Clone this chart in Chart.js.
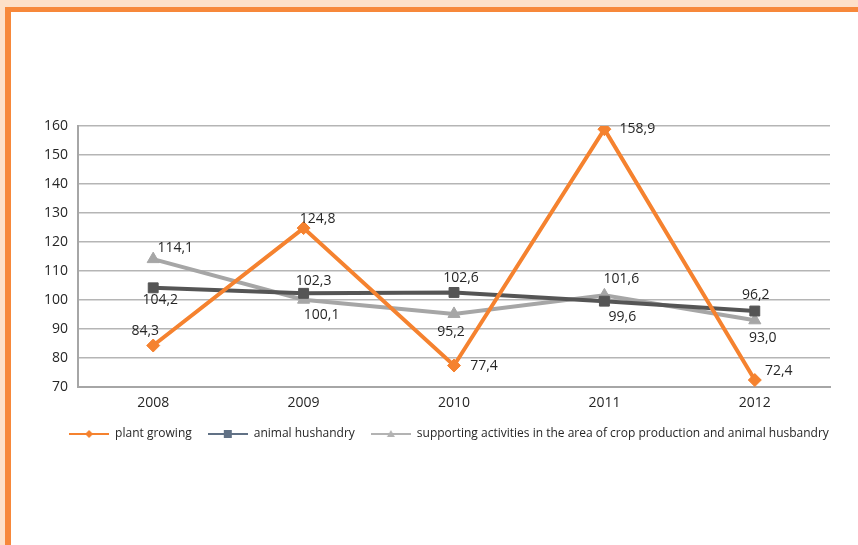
<!DOCTYPE html>
<html>
<head>
    <title>Plant growing / animal husbandry index</title>
    <script src="https://cdn.jsdelivr.net/npm/chart.js"></script>
    <style>
        body {
            margin: 0;
            background: #fde0c8;
            overflow: hidden;
        }
        .frame {
            position: absolute;
            left: 5px;
            top: 7px;
            width: 900px;
            height: 600px;
            background: #fff;
            border-top: 5px solid #f7883a;
            border-left: 6px solid #f7883a;
        }
        #chart {
            position: absolute;
            left: 0;
            top: 0;
        }
    </style>
</head>
<body>
    <div class="frame"></div>
    <canvas id="chart" width="858" height="545"></canvas>

    <script>
        // Data
        const years = ['2008', '2009', '2010', '2011', '2012'];
        const plantGrowing = [84.3, 124.8, 77.4, 158.9, 72.4];
        const animalHusbandry = [104.2, 102.3, 102.6, 99.6, 96.2];
        const supportingActivities = [114.1, 100.1, 95.2, 101.6, 93.0];
        const seriesNames = [
            'plant growing',
            'animal hushandry',
            'supporting activities in the area of crop production and animal husbandry'
        ];
        const yMin = 70, yMax = 160, yStep = 10;

        const orange = '#f5822f';
        const darkGray = '#555555';
        const lightGray = '#a6a6a6';
        const font = "'Open Sans', sans-serif";

        // where each value label sits relative to its point (dx, dy in px)
        const labelOffsets = [
            [[-8, -15], [14, -9], [30, 0], [33, 0], [24, -9]],
            [[7, 12], [10, -12], [7, -14], [18, 16], [1, -16]],
            [[22, -11], [18, 15], [-3, 18], [17, -16], [8, 18]]
        ];

        // legend icons: short line with the marker in the middle
        function legendIcon(color, shape) {
            const c = document.createElement('canvas');
            c.width = 40; c.height = 12;
            const g = c.getContext('2d');
            g.strokeStyle = color;
            g.lineWidth = 2;
            g.beginPath(); g.moveTo(0, 6); g.lineTo(40, 6); g.stroke();
            g.fillStyle = color;
            g.beginPath();
            if (shape === 'diamond') {
                g.moveTo(20, 2); g.lineTo(24, 6); g.lineTo(20, 10); g.lineTo(16, 6);
            } else if (shape === 'square') {
                g.rect(16, 2, 8, 8);
            } else {
                g.moveTo(20, 2); g.lineTo(24, 9); g.lineTo(16, 9);
            }
            g.closePath(); g.fill();
            return c;
        }
        const legendIcons = [
            legendIcon(orange, 'diamond'),
            legendIcon('#617185', 'square'),
            legendIcon('#b3b3b3', 'triangle')
        ];

        const valueLabels = {
            id: 'valueLabels',
            afterDatasetsDraw(chart) {
                const ctx = chart.ctx;
                ctx.save();
                ctx.font = '14px ' + font;
                ctx.fillStyle = '#262626';
                ctx.textAlign = 'center';
                ctx.textBaseline = 'middle';
                chart.data.datasets.forEach((ds, i) => {
                    chart.getDatasetMeta(i).data.forEach((pt, j) => {
                        const off = labelOffsets[i][j];
                        const txt = ds.data[j].toFixed(1).replace('.', ',');
                        ctx.fillText(txt, pt.x + off[0], pt.y + off[1]);
                    });
                });
                ctx.restore();
            }
        };

        const chart = new Chart(document.getElementById('chart').getContext('2d'), {
            type: 'line',
            data: {
                labels: years,
                datasets: [
                    { label: seriesNames[0], data: plantGrowing, borderColor: orange, backgroundColor: orange,
                      borderWidth: 4, pointStyle: 'rectRot', pointRadius: 6.5, pointBorderWidth: 1 },
                    { label: seriesNames[1], data: animalHusbandry, borderColor: darkGray, backgroundColor: darkGray,
                      borderWidth: 4, pointStyle: 'rect', pointRadius: 7, pointBorderWidth: 1 },
                    { label: seriesNames[2], data: supportingActivities, borderColor: lightGray, backgroundColor: lightGray,
                      borderWidth: 4, pointStyle: 'triangle', pointRadius: 7, pointBorderWidth: 1 }
                ]
            },
            options: {
                responsive: false,
                animation: false,
                events: [],
                layout: { padding: { left: 40, right: 0, top: 126, bottom: 95 } },
                scales: {
                    x: {
                        offset: true,
                        grid: { display: false, drawTicks: false },
                        border: { color: '#a6a6a6', width: 2 },
                        ticks: { color: '#262626', font: { family: font, size: 14 }, padding: 8 },
                        afterFit(scale) { scale.height = 25; }
                    },
                    y: {
                        min: yMin,
                        max: yMax,
                        grid: { color: '#b5b5b5', lineWidth: 1.5, drawTicks: false },
                        border: { color: '#a6a6a6', width: 2 },
                        ticks: { stepSize: yStep, color: '#262626', font: { family: font, size: 14 }, padding: 10 },
                        afterFit(scale) { scale.width = 38; }
                    },
                    // empty spacer on the right so the plot ends where the reference does
                    spacer: {
                        position: 'right',
                        grid: { display: false, drawTicks: false },
                        border: { display: false },
                        ticks: { display: false },
                        afterFit(scale) { scale.width = 28; }
                    }
                },
                plugins: {
                    tooltip: { enabled: false },
                    legend: {
                        position: 'bottom',
                        labels: {
                            usePointStyle: true,
                            pointStyleWidth: 40,
                            padding: 16,
                            color: '#262626',
                            font: { family: font, size: 12 },
                            generateLabels(c) {
                                const items = Chart.defaults.plugins.legend.labels.generateLabels(c);
                                items.forEach((it, i) => { it.pointStyle = legendIcons[i]; });
                                return items;
                            }
                        }
                    }
                }
            },
            plugins: [valueLabels]
        });
    </script>
</body>
</html>
